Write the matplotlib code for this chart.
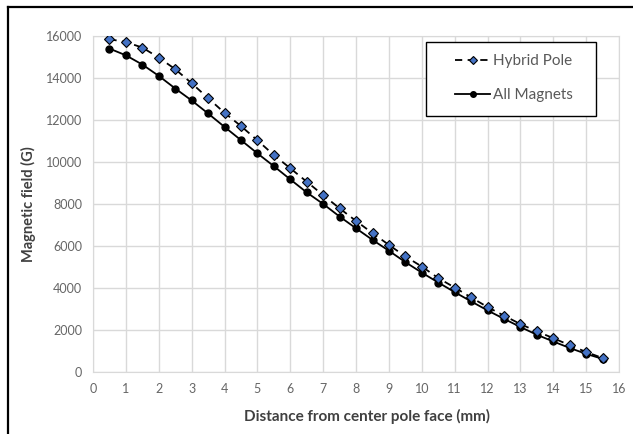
import matplotlib.pyplot as plt
from matplotlib.lines import Line2D
from matplotlib.patches import Rectangle

distance = [0.5, 1.0, 1.5, 2.0, 2.5, 3.0, 3.5, 4.0, 4.5, 5.0, 5.5, 6.0, 6.5, 7.0, 7.5, 8.0,
            8.5, 9.0, 9.5, 10.0, 10.5, 11.0, 11.5, 12.0, 12.5, 13.0, 13.5, 14.0, 14.5, 15.0, 15.5]
hybrid_pole = [15850, 15710, 15450, 14970, 14420, 13750, 13040, 12340, 11710, 11030, 10330,
               9700, 9060, 8420, 7790, 7190, 6610, 6050, 5500, 5020, 4470, 4020, 3550, 3090,
               2680, 2280, 1930, 1610, 1270, 950, 660]
all_magnets = [15400, 15080, 14640, 14100, 13500, 12930, 12310, 11670, 11040, 10410, 9800,
               9170, 8550, 8000, 7400, 6840, 6290, 5770, 5230, 4730, 4260, 3800, 3360, 2930,
               2530, 2140, 1770, 1450, 1140, 860, 620]

plt.rcParams['font.family'] = ['Lato', 'DejaVu Sans']

fig = plt.figure(figsize=(6.33, 4.34), dpi=100)
ax = fig.add_axes([0.147, 0.143, 0.831, 0.774])

ax.plot(distance, hybrid_pole, color='black', linestyle=(0, (4, 3)), linewidth=1.3,
        marker='D', markersize=5.5, markerfacecolor='#4472C4', markeredgecolor='black',
        markeredgewidth=0.8, label='Hybrid Pole', zorder=3)
ax.plot(distance, all_magnets, color='black', linestyle='-', linewidth=1.3,
        marker='o', markersize=5, markerfacecolor='black', markeredgecolor='black',
        label='All Magnets', zorder=2)

ax.set_xlim(0, 16)
ax.set_ylim(0, 16000)
ax.set_xticks(range(0, 17))
ax.set_yticks(range(0, 16001, 2000))
ax.grid(True, color='#d9d9d9', linewidth=1)
ax.set_axisbelow(True)
for s in ax.spines.values():
    s.set_color('#d9d9d9')
ax.tick_params(length=0, labelsize=9, colors='#666666', pad=8)

ax.set_xlabel('Distance from center pole face (mm)', fontsize=11, fontweight='bold',
              color='#404040')
ax.xaxis.set_label_coords(0.52, -0.11)
ax.set_ylabel('Magnetic field (G)', fontsize=10.5, fontweight='bold',
              color='#404040')
ax.yaxis.set_label_coords(-0.108, 0.5)

# legend box drawn separately so its padding matches the original
ax.add_patch(Rectangle((0.633, 0.762), 0.323, 0.22, transform=ax.transAxes,
                       facecolor='white', edgecolor='black', linewidth=1.0,
                       clip_on=False, zorder=4))
leg = ax.legend(loc='upper left', bbox_to_anchor=(0.688, 0.945), fontsize=11,
                frameon=False, labelspacing=1.3, borderpad=0, borderaxespad=0,
                handlelength=2.3, handletextpad=0.2, markerscale=0.8)
leg.set_zorder(5)
for t in leg.get_texts():
    t.set_color('#595959')

# page frame lines
fig.add_artist(Line2D([8 / 633, 1], [1 - 7 / 434, 1 - 7 / 434], color='black', linewidth=1.6))
fig.add_artist(Line2D([8 / 633, 8 / 633], [0, 1 - 7 / 434], color='black', linewidth=1.6))

fig.savefig('out.png', dpi=100)
